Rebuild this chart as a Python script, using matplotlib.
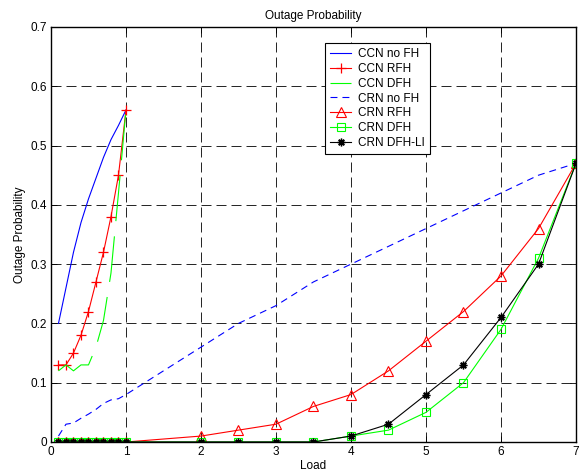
import matplotlib
matplotlib.use("Agg")
import matplotlib.pyplot as plt
from matplotlib.ticker import FuncFormatter

plt.rcParams['font.family'] = ['Liberation Sans', 'DejaVu Sans']
plt.rcParams['font.size'] = 8.5
plt.rcParams['lines.scale_dashes'] = False

# ---- data ----
x_ccn = [0.1, 0.2, 0.3, 0.4, 0.5, 0.6, 0.7, 0.8, 0.9, 1.0]
ccn_nofh = [0.20, 0.26, 0.32, 0.37, 0.41, 0.445, 0.48, 0.51, 0.534, 0.56]
ccn_rfh = [0.13, 0.13, 0.15, 0.18, 0.22, 0.27, 0.32, 0.38, 0.45, 0.56]
ccn_dfh = [0.12, 0.13, 0.12, 0.13, 0.13, 0.16, 0.205, 0.285, 0.42, 0.56]

x_crn = [0.1, 0.2, 0.3, 0.4, 0.5, 0.6, 0.7, 0.8, 0.9, 1.0,
         2, 2.5, 3, 3.5, 4, 4.5, 5, 5.5, 6, 6.5, 7]
crn_nofh = [0.01, 0.03, 0.032, 0.04, 0.047, 0.055, 0.065, 0.071, 0.073, 0.08,
            0.16, 0.20, 0.23, 0.27, 0.30, 0.33, 0.36, 0.39, 0.42, 0.45, 0.47]
crn_rfh = [0, 0, 0, 0, 0, 0, 0, 0, 0, 0,
           0.01, 0.02, 0.03, 0.06, 0.08, 0.12, 0.17, 0.22, 0.28, 0.36, 0.47]
crn_dfh = [0, 0, 0, 0, 0, 0, 0, 0, 0, 0,
           0, 0, 0, 0, 0.01, 0.02, 0.05, 0.10, 0.19, 0.31, 0.47]
crn_dfhli = [0, 0, 0, 0, 0, 0, 0, 0, 0, 0,
             0, 0, 0, 0, 0.01, 0.03, 0.08, 0.13, 0.21, 0.30, 0.47]

labels = ['CCN no FH', 'CCN RFH', 'CCN DFH', 'CRN no FH', 'CRN RFH', 'CRN DFH', 'CRN DFH-LI']
xticks = [0, 1, 2, 3, 4, 5, 6, 7]
yticks = [0, 0.1, 0.2, 0.3, 0.4, 0.5, 0.6, 0.7]

fig = plt.figure(figsize=(5.88, 4.75), dpi=100)
ax = fig.add_axes([0.0867, 0.0695, 0.8929, 0.8737])

lw = 0.8
ax.plot(x_ccn, ccn_nofh, color='blue', lw=lw, label=labels[0])
ax.plot(x_ccn, ccn_rfh, color='red', lw=lw, marker='+', ms=7.5, mew=0.9, label=labels[1])
ax.plot(x_ccn, ccn_dfh, color='#00ff00', lw=lw, dashes=(33, 11), label=labels[2])
ax.plot(x_crn, crn_nofh, color='blue', lw=lw, dashes=(5, 3.6), label=labels[3])
ax.plot(x_crn, crn_rfh, color='red', lw=lw, marker='^', ms=6.5, mfc='none', mew=0.8, label=labels[4])
ax.plot(x_crn, crn_dfh, color='#00ff00', lw=lw, marker='s', ms=5.5, mfc='none', mew=0.8, label=labels[5])
ax.plot(x_crn, crn_dfhli, color='black', lw=lw, marker=(8, 2, 0), ms=5.5, mew=1.0, label=labels[6])

ax.set_xlim(0, 7)
ax.set_ylim(0, 0.7)
ax.set_xticks(xticks)
ax.set_yticks(yticks)
ax.yaxis.set_major_formatter(FuncFormatter(lambda v, p: '0' if abs(v) < 1e-9 else '%.1f' % v))
ax.tick_params(direction='in', length=4, width=0.6, top=True, right=True, pad=3)
ax.grid(True, color='#222222', lw=0.7, dashes=(7.2, 3.6))
ax.set_axisbelow(True)
for s in ax.spines.values():
    s.set_linewidth(1.0)

ax.set_title('Outage Probability', fontsize=8.5, pad=6)
ax.set_xlabel('Load', labelpad=1)
ax.set_ylabel('Outage Probability', labelpad=3)

leg = ax.legend(loc='upper left', bbox_to_anchor=(0.522, 0.962), fancybox=False,
                edgecolor='black', framealpha=1, handlelength=1.75, labelspacing=0.24,
                borderpad=0.45, handletextpad=0.6, borderaxespad=0)
leg.get_frame().set_linewidth(0.8)

fig.savefig('out.png', dpi=100)
